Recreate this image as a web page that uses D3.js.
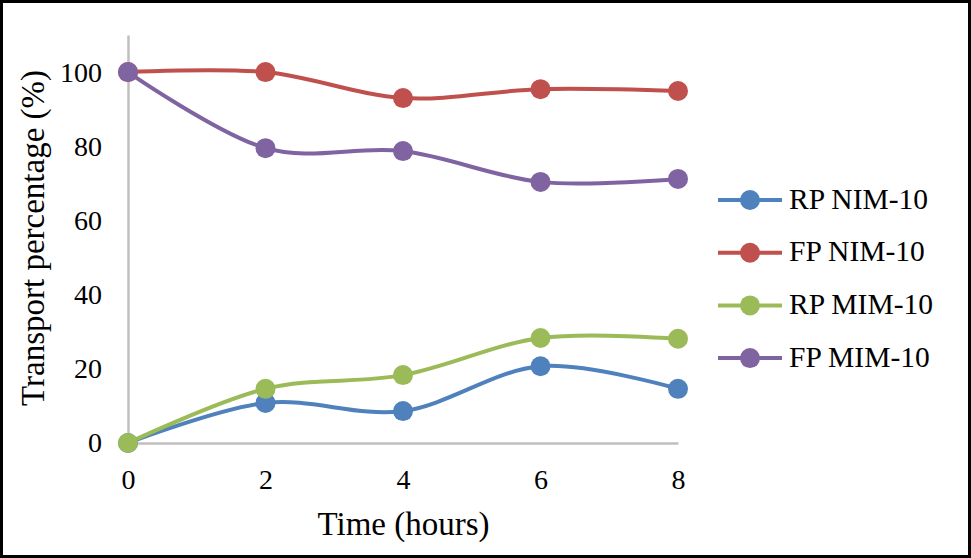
<!DOCTYPE html>
<html><head><meta charset="utf-8">
<script src="https://cdn.jsdelivr.net/npm/d3@7"></script>
<style>html,body{margin:0;padding:0;background:#fff;}svg{display:block;} svg text{font-family:"Liberation Serif","Times New Roman",Times,serif !important;}</style>
</head><body>
<svg id="c" width="971" height="558"></svg>
<script>
const times = [0, 2, 4, 6, 8];
const rpNim = [0, 10.8, 8.6, 20.7, 14.6];
const fpNim = [100, 100, 93, 95.4, 94.9];
const rpMim = [0, 14.6, 18.3, 28.3, 28.1];
const fpMim = [100, 79.5, 78.7, 70.4, 71.2];
const seriesNames = ["RP NIM-10", "FP NIM-10", "RP MIM-10", "FP MIM-10"];
const seriesColors = ["#4F81BD", "#C0504D", "#9BBB59", "#8064A2"];
const yTicks = [0, 20, 40, 60, 80, 100];
const xTicks = [0, 2, 4, 6, 8];

const series = [rpNim, fpNim, rpMim, fpMim].map((v, i) => ({name: seriesNames[i], color: seriesColors[i], values: v}));

const svg = d3.select("#c");

svg.append("rect").attr("x", 1.5).attr("y", 1.5).attr("width", 968).attr("height", 555)
  .attr("fill", "#fff").attr("stroke", "#000").attr("stroke-width", 3);

const x = d3.scaleLinear().domain([0, 8]).range([128, 678]);
const y = d3.scaleLinear().domain([0, 110]).range([443, 35]);

const gx = svg.append("g").attr("transform", "translate(0,443)")
  .call(d3.axisBottom(x).tickValues(xTicks).tickSize(0).tickPadding(26));
const gy = svg.append("g").attr("transform", "translate(128,0)")
  .call(d3.axisLeft(y).tickValues(yTicks).tickSize(0).tickPadding(26));
[gx, gy].forEach(g => {
  g.select(".domain").attr("stroke", "#BFBFBF").attr("stroke-width", 2.5);
  g.selectAll("text").attr("font-size", 28).attr("fill", "#000");
});

const line = d3.line().x((d, i) => x(times[i])).y(d => y(d)).curve(d3.curveCardinal.tension(0));
series.forEach(s => {
  svg.append("path").datum(s.values).attr("d", line).attr("fill", "none")
    .attr("stroke", s.color).attr("stroke-width", 4).attr("stroke-linecap", "round");
});
series.forEach(s => {
  svg.append("g").selectAll("circle").data(s.values).join("circle")
    .attr("cx", (d, i) => x(times[i])).attr("cy", d => y(d)).attr("r", 10).attr("fill", s.color);
});

svg.append("text").attr("x", 403.5).attr("y", 535).attr("text-anchor", "middle")
  .attr("font-size", 33).text("Time (hours)");
svg.append("text").attr("transform", "translate(44,238) rotate(-90)").attr("text-anchor", "middle")
  .attr("font-size", 33).text("Transport percentage (%)");

const lg = svg.append("g");
series.forEach((s, i) => {
  const cy = 200 + i * 52.7;
  lg.append("line").attr("x1", 718).attr("x2", 782).attr("y1", cy).attr("y2", cy)
    .attr("stroke", s.color).attr("stroke-width", 4);
  lg.append("circle").attr("cx", 750).attr("cy", cy).attr("r", 10).attr("fill", s.color);
  lg.append("text").attr("x", 789).attr("y", cy + 8.5)
    .attr("font-size", 29.5).text(s.name);
});
</script>
</body></html>
